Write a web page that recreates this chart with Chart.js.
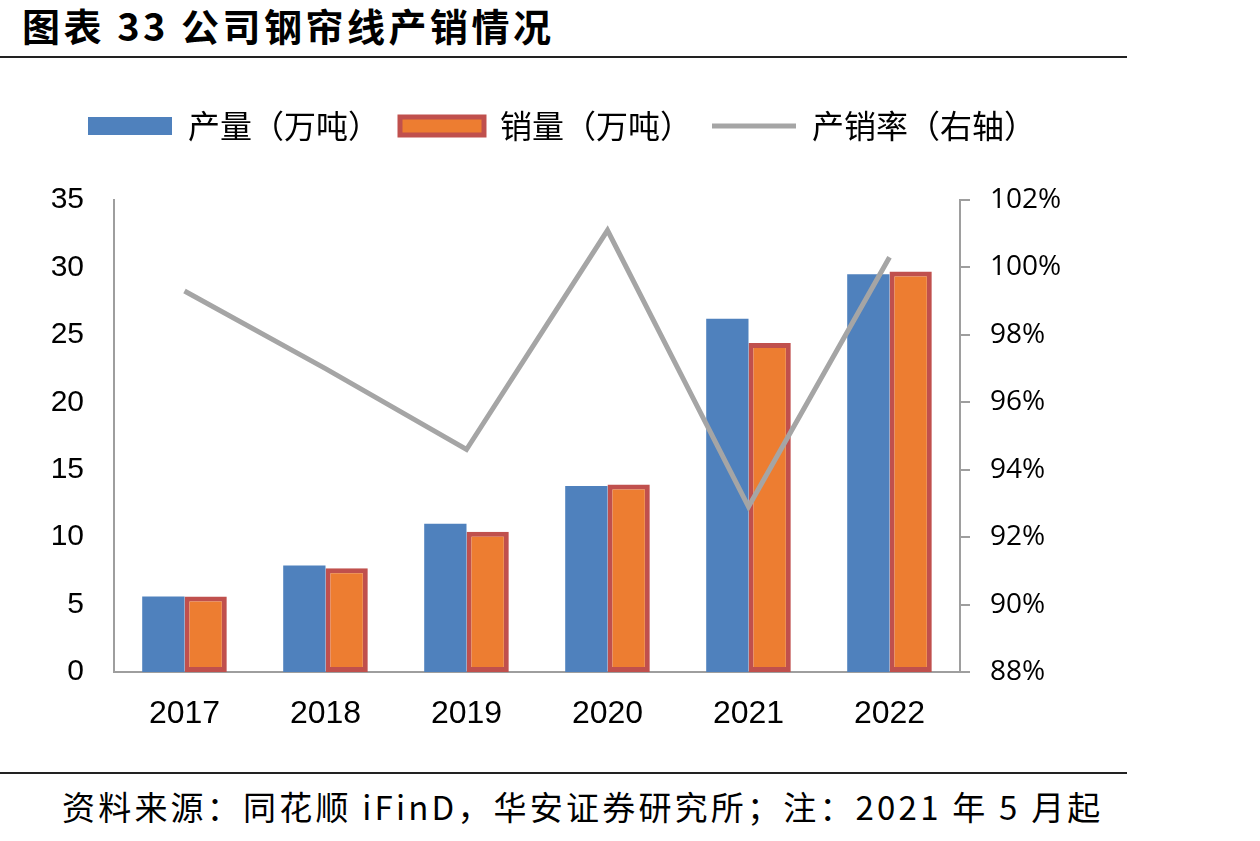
<!DOCTYPE html>
<html lang="zh">
<head>
    <meta charset="UTF-8">
    <title>公司钢帘线产销情况</title>
    <script src="https://cdn.jsdelivr.net/npm/chart.js"></script>
    <style>
        body { margin: 0; background: #fff; }
        #page { position: relative; width: 1260px; height: 841px; overflow: hidden; font-family: "Noto Sans CJK SC", sans-serif; }
        #titulo { position: absolute; left: 22px; top: 6px; font-size: 38px; line-height: 1; font-weight: bold; letter-spacing: 3.5px; color: #000; }
        .regua { position: absolute; left: 0; width: 1127px; height: 2px; background: #222; }
        #fonte { position: absolute; left: 62px; top: 790px; font-size: 33px; line-height: 1; letter-spacing: 3.2px; color: #000; }
        #grafico { position: absolute; left: 0; top: 80px; }
    </style>
</head>
<body>
<div id="page">
    <div id="titulo">图表 33 公司钢帘线产销情况</div>
    <div class="regua" style="top:56px"></div>
    <canvas id="grafico" width="1124" height="690"></canvas>
    <div class="regua" style="top:772px"></div>
    <div id="fonte">资料来源：同花顺 iFinD，华安证券研究所；注：2021 年 5 月起</div>
</div>

<script>
    // dados
    var anos = ['2017', '2018', '2019', '2020', '2021', '2022'];
    var producao = [5.6, 7.9, 11.0, 13.8, 26.2, 29.5];   // 产量（万吨）
    var vendas = [5.6, 7.7, 10.4, 13.9, 24.4, 29.7];     // 销量（万吨）
    var taxa = [99.3, 97.0, 94.6, 101.1, 92.9, 100.3];   // 产销率 %
    var ticksEsquerda = [0, 35, 5];
    var ticksDireita = [88, 102, 2];

    var corEixo = '#9E9E9E';

    // espaço extra entre a legenda e o gráfico
    var espacoLegenda = {
        id: 'espacoLegenda',
        beforeInit: function(chart) {
            var fitOriginal = chart.legend.fit;
            chart.legend.fit = function() {
                fitOriginal.bind(chart.legend)();
                this.height += 48;
            };
        }
    };

    var ctx = document.getElementById('grafico').getContext('2d');

    new Chart(ctx, {
        data: {
            labels: anos,
            datasets: [{
                type: 'bar',
                label: '产量（万吨）',
                data: producao,
                backgroundColor: '#4F81BD',
                borderWidth: 0,
                pointStyle: 'rect',
                yAxisID: 'y',
                order: 1
            }, {
                type: 'bar',
                label: '销量（万吨）',
                data: vendas,
                backgroundColor: '#ED7D31',
                borderColor: '#C0504D',
                borderWidth: 5,
                borderSkipped: false,
                pointStyle: 'rect',
                yAxisID: 'y',
                order: 1
            }, {
                type: 'line',
                label: '产销率（右轴）',
                data: taxa,
                borderColor: '#A5A5A5',
                backgroundColor: '#A5A5A5',
                borderWidth: 5,
                pointRadius: 0,
                pointStyle: 'line',
                tension: 0,
                yAxisID: 'y1',
                order: 0
            }]
        },
        options: {
            responsive: false,
            animation: false,
            devicePixelRatio: 1,
            layout: { padding: { top: 10, left: 0, right: 0, bottom: 0 } },
            datasets: {
                bar: { categoryPercentage: 0.6, barPercentage: 1.0 }
            },
            plugins: {
                tooltip: { enabled: false },
                legend: {
                    position: 'top',
                    labels: {
                        usePointStyle: true,
                        pointStyleWidth: 84,
                        boxHeight: 18,
                        padding: 20,
                        color: '#000',
                        font: { family: '"Noto Sans CJK SC", sans-serif', size: 32 },
                        sort: function(a, b) { return a.datasetIndex - b.datasetIndex; }
                    }
                }
            },
            scales: {
                x: {
                    grid: { display: false, drawTicks: false },
                    border: { display: true, color: corEixo, width: 2 },
                    ticks: {
                        color: '#000',
                        padding: 23,
                        font: { family: '"Liberation Sans", Arial, sans-serif', size: 32 }
                    },
                    afterFit: function(scale) { scale.height = 98; }
                },
                y: {
                    position: 'left',
                    min: ticksEsquerda[0],
                    max: ticksEsquerda[1],
                    grid: { display: false, drawTicks: false },
                    border: { display: true, color: corEixo, width: 2 },
                    ticks: {
                        stepSize: ticksEsquerda[2],
                        color: '#000',
                        padding: 30,
                        font: { family: '"Liberation Sans", Arial, sans-serif', size: 30 }
                    },
                    afterFit: function(scale) { scale.width = 114; }
                },
                y1: {
                    position: 'right',
                    min: ticksDireita[0],
                    max: ticksDireita[1],
                    grid: { display: true, drawOnChartArea: false, drawTicks: true, tickLength: 10, color: corEixo, lineWidth: 2 },
                    border: { display: true, color: corEixo, width: 2 },
                    ticks: {
                        stepSize: ticksDireita[2],
                        color: '#000',
                        padding: 20,
                        font: { family: '"Open Sans", sans-serif', size: 28 },
                        callback: function(valor) { return valor + '%'; }
                    },
                    afterFit: function(scale) { scale.width = 164; }
                }
            }
        },
        plugins: [espacoLegenda]
    });
</script>
</body>
</html>
